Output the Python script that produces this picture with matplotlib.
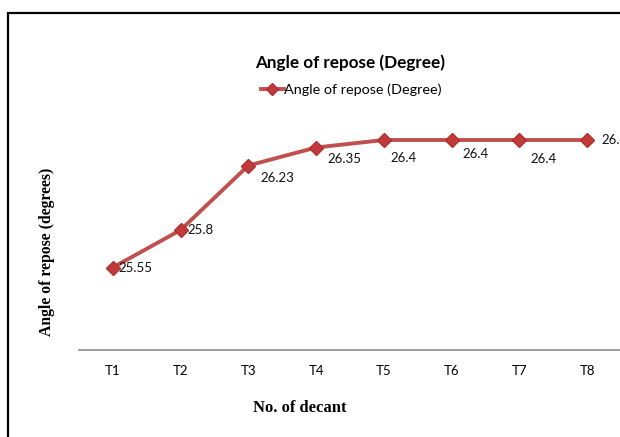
import matplotlib
matplotlib.use("Agg")
import matplotlib.pyplot as plt
from matplotlib.lines import Line2D
from matplotlib.patches import Rectangle

categories = ["T1", "T2", "T3", "T4", "T5", "T6", "T7", "T8"]
angle_values = [25.55, 25.8, 26.23, 26.35, 26.4, 26.4, 26.4, 26.4]
value_labels = ["25.55", "25.8", "26.23", "26.35", "26.4", "26.4", "26.4", "26.4"]
# label offsets in points (dx, dy) from each marker
label_offsets = [(4, 0), (5, 0), (9, -9), (8, -8), (5, -13), (8, -10), (8, -14), (10, 0)]

W, H = 620, 437
fig = plt.figure(figsize=(W / 100, H / 100), dpi=100)
sans = ["Lato", "DejaVu Sans"]
serif = ["Liberation Serif", "DejaVu Serif"]

# outer chart frame
fig.add_artist(Rectangle((7.5 / W, -0.1), 1.2, 1 - 13 / H + 0.1,
                         transform=fig.transFigure, fill=False,
                         edgecolor="black", linewidth=1.6))

ax = fig.add_axes([79 / W, 87 / H, 542 / W, 240 / H])
x = list(range(len(categories)))
color = "#C0504D"
ax.plot(x, angle_values, color=color, linewidth=2.8, marker="D",
        markersize=7, markerfacecolor="#C0393B", markeredgecolor="#B03030",
        solid_capstyle="round", clip_on=False, zorder=3)

for xi, v, lab, (dx, dy) in zip(x, angle_values, value_labels, label_offsets):
    ax.annotate(lab, (xi, v), xytext=(dx, dy), textcoords="offset points",
                ha="left", va="center", fontsize=9.5, family=sans,
                color="#111111", annotation_clip=False, clip_on=False)

ax.set_xlim(-0.5, len(categories) - 0.5)
ax.set_ylim(25.0, 26.6)
ax.set_xticks(x)
ax.set_xticklabels(categories, family=sans, fontsize=9.5)
ax.set_yticks([])
for s in ["top", "right", "left"]:
    ax.spines[s].set_visible(False)
ax.spines["bottom"].set_color("#8c8c8c")
ax.spines["bottom"].set_linewidth(1.2)
ax.tick_params(axis="x", length=0, pad=11)

fig.text(350 / W, 1 - 63 / H, "Angle of repose (Degree)", ha="center",
         va="center", fontsize=12.3, fontweight="bold", family=sans)

handle = Line2D([], [], color=color, linewidth=2.8, marker="D", markersize=6,
                markerfacecolor="#C0393B", markeredgecolor="#B03030")
fig.legend([handle], ["Angle of repose (Degree)"], loc="center",
           bbox_to_anchor=(351 / W, 1 - 90 / H), frameon=False,
           prop={"family": sans, "size": 10.4}, handlelength=1.6,
           handletextpad=0.0, borderpad=0)

fig.text(300 / W, 1 - 408 / H, "No. of decant", ha="center", va="center",
         fontsize=12, fontweight="bold", family=serif)
fig.text(47 / W, 1 - 252 / H, "Angle of repose (degrees)", ha="center",
         va="center", rotation=90, fontsize=11.3, fontweight="bold", family=serif)

fig.savefig("out.png", dpi=100)
